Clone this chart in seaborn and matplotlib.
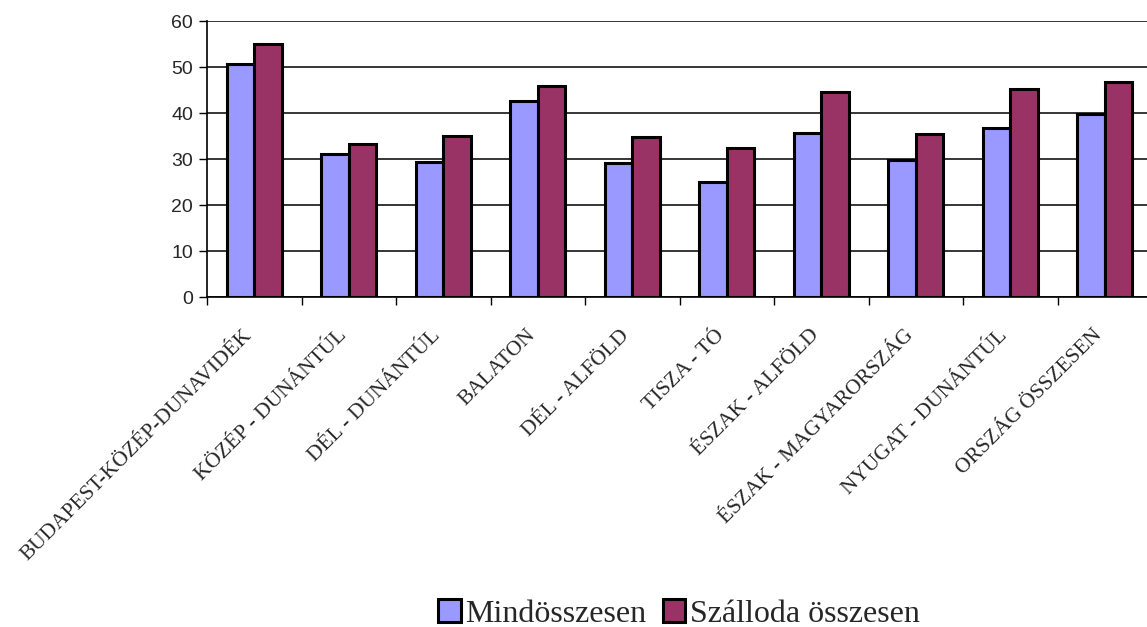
import matplotlib
matplotlib.use("Agg")
import matplotlib.pyplot as plt
import matplotlib.transforms as mtransforms
import seaborn as sns
import pandas as pd
import numpy as np

categories = ["BUDAPEST-KÖZÉP-DUNAVIDÉK", "KÖZÉP - DUNÁNTÚL", "DÉL - DUNÁNTÚL", "BALATON",
              "DÉL - ALFÖLD", "TISZA - TÓ", "ÉSZAK - ALFÖLD", "ÉSZAK - MAGYARORSZÁG",
              "NYUGAT - DUNÁNTÚL", "ORSZÁG ÖSSZESEN"]
mindosszesen = [50.6, 31.1, 29.4, 42.6, 29.2, 25.0, 35.7, 29.8, 36.8, 39.8]
szalloda = [55.0, 33.2, 35.0, 45.9, 34.9, 32.4, 44.6, 35.5, 45.2, 46.7]
series_names = ["Mindösszesen", "Szálloda összesen"]
colors = ["#9999FF", "#993366"]
yticks = [0, 10, 20, 30, 40, 50, 60]

df = pd.DataFrame({
    "cat": categories * 2,
    "val": mindosszesen + szalloda,
    "series": [series_names[0]] * len(categories) + [series_names[1]] * len(categories),
})

sns.set_style("white")
plt.rcParams["font.family"] = ["Liberation Serif", "DejaVu Serif"]

fig = plt.figure(figsize=(11.47, 6.27), dpi=100)
ax = fig.add_axes([207 / 1147, 1 - 297.3 / 627, 945 / 1147, 276.3 / 627])

sns.barplot(data=df, x="cat", y="val", hue="series", palette=colors, width=0.58,
            edgecolor="black", linewidth=2.2, saturation=1, ax=ax, legend=True)

ax.set_xlim(-0.5, len(categories) - 0.5)
ax.set_ylim(0, 60)
ax.set_yticks(yticks)
ax.set_yticklabels([str(v) for v in yticks], family="Liberation Sans", fontsize=14)
ax.yaxis.grid(True, color="black", linewidth=1.1)
ax.set_axisbelow(True)
ax.tick_params(axis="y", length=6, width=1, color="black", direction="out", left=True, pad=4)

ax.set_xticks(np.arange(len(categories)))
ax.set_xticklabels(categories, rotation=45, ha="right", rotation_mode="anchor", fontsize=15.5)
ax.tick_params(axis="x", which="major", length=0, pad=12)
ax.set_xticks(np.arange(len(categories) + 1) - 0.5, minor=True)
ax.tick_params(axis="x", which="minor", length=6, width=1, color="black", direction="out", bottom=True)

offset = mtransforms.ScaledTranslation(-12 / 100, -12 / 100, fig.dpi_scale_trans)
for lbl in ax.get_xticklabels():
    lbl.set_transform(lbl.get_transform() + offset)

for s in ["top", "right"]:
    ax.spines[s].set_visible(False)
for s in ["left", "bottom"]:
    ax.spines[s].set_visible(True)
    ax.spines[s].set_color("black")
    ax.spines[s].set_linewidth(1.2)
ax.set_xlabel("")
ax.set_ylabel("")

handles, labels = ax.get_legend_handles_labels()
ax.legend(handles, labels, loc="center", bbox_to_anchor=(679 / 1147, 1 - 614 / 627),
          bbox_transform=fig.transFigure, ncol=2, frameon=False, fontsize=23,
          handlelength=0.7, handleheight=0.7, handletextpad=0.15, columnspacing=0.5,
          borderaxespad=0)

fig.savefig("out.png", dpi=100)
